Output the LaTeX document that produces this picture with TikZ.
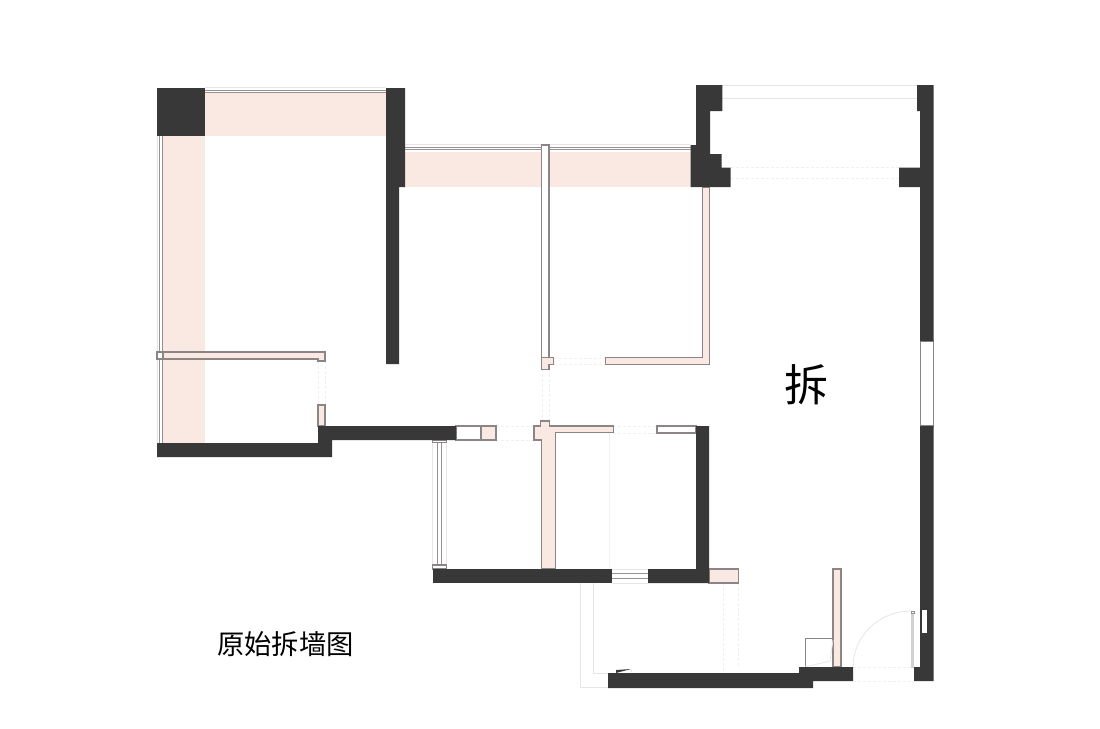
\documentclass[tikz,border=0pt]{standalone}
\usepackage{fontspec}
\usepackage{xcolor}
\newfontfamily\cjk{Noto Sans CJK SC}
\definecolor{walldark}{HTML}{383838}
\definecolor{wallpink}{HTML}{FAE9E3}
\definecolor{edgegray}{HTML}{8C8585}
\definecolor{palegray}{HTML}{E6E6E6}
\begin{document}
\begin{tikzpicture}[x=1pt, y=-1pt]
    \tikzstyle{wall}=[fill=walldark, draw=none]
    \tikzstyle{zone}=[fill=wallpink, draw=none]
    \tikzstyle{demo}=[fill=wallpink, draw=edgegray, line width=1.1pt]
    \tikzstyle{keep}=[fill=white, draw=edgegray, line width=1.1pt]
    \tikzstyle{glass}=[draw=edgegray!90, line width=0.8pt]
    \tikzstyle{pale}=[draw=palegray, line width=0.8pt]
    \tikzstyle{paledash}=[draw=palegray!60, line width=0.5pt, dash pattern=on 3pt off 2pt]
    \useasboundingbox (0,0) rectangle (1100,728);
    % areas to remove
    \fill[zone] (205,93) rectangle (386,136);
    \fill[zone] (163,136) rectangle (205,443);
    \fill[zone] (405,152) rectangle (691,187);
    % window lines
    \draw[pale] (205,87.5) -- (386,87.5);
    \draw[glass] (205,90) -- (386,90) (205,92.3) -- (386,92.3);
    \draw[pale] (157.5,136) -- (157.5,443);
    \draw[glass] (159.6,136) -- (159.6,443) (162,136) -- (162,443);
    \draw[pale] (405,144.5) -- (691,144.5);
    \draw[glass] (405,147.5) -- (691,147.5) (405,149.7) -- (691,149.7);
    \draw[pale] (722,85) -- (917,85) (722,98.5) -- (917,98.5);
    \draw[paledash] (731,167.7) -- (899,167.7) (731,178) -- (899,178);
    \draw[pale] (432.3,442) -- (432.3,565) (446.7,442) -- (446.7,565);
    \draw[glass] (437.3,442) -- (437.3,565) (441.7,442) -- (441.7,565);
    \draw[keep] (432.5,440) rectangle (446.5,442.3);
    \draw[keep] (432.5,565) rectangle (446.5,569);
    \draw[pale] (612,569.5) -- (648,569.5) (612,583) -- (648,583);
    \draw[glass] (612,573.5) -- (648,573.5) (612,578) -- (648,578);
    % openings
    \draw[paledash] (318,361) -- (318,405) (325,361) -- (325,405);
    \draw[paledash] (554,358) -- (605,358) (554,364) -- (605,364);
    \draw[paledash] (542,369) -- (542,421) (549,369) -- (549,421);
    \draw[paledash] (496,426) -- (534,426) (496,440) -- (534,440);
    \draw[paledash] (613,426) -- (657,426) (613,433) -- (657,433);
    \draw[palegray!60, line width=0.6pt] (609,433) -- (609,569);
    \draw[paledash] (723,583) -- (723,673) (738,583) -- (738,667);
    \draw[pale] (608,687.5) -- (580,687.5) -- (580,583);
    \draw[pale] (608,673) -- (593,673) -- (593,583);
    % entrance door
    \draw[paledash] (853,667) -- (914,667) (853,681) -- (914,681);
    \draw[pale] (853,667) arc (180:270:58 and 56);
    \fill[palegray!80!gray] (911,613) rectangle (914,668);
    \draw[glass] (911,611) rectangle (914,613.5);
    % thin partitions
    \draw[demo] (157,352) -- (325,352) -- (325,361) -- (318,361) -- (318,359) -- (157,359) -- cycle;
    \draw[keep] (157.5,352) rectangle (163,359);
    \draw[demo] (318,405) rectangle (325,426);
    \draw[keep] (541.7,145) rectangle (549,358);
    \draw[demo] (541.7,357.7) -- (553.7,357.7) -- (553.7,364.3) -- (549,364.3) -- (549,369.3) -- (541.7,369.3) -- cycle;
    \draw[demo] (702.3,187) -- (709.3,187) -- (709.3,364.3) -- (605.3,364.3) -- (605.3,357.7) -- (702.3,357.7) -- cycle;
    \draw[keep] (456,426) rectangle (481,440);
    \draw[demo] (481,426) rectangle (496,440);
    \draw[demo] (534,426) -- (540.7,426) -- (540.7,421) -- (549.3,421) -- (549.3,426) -- (613.3,426) -- (613.3,432.7) -- (555.7,432.7) -- (555.7,569) -- (541.7,569) -- (541.7,440) -- (534,440) -- cycle;
    \draw[keep] (657,426) rectangle (696,433);
    \draw[demo] (709,569) rectangle (738.5,583);
    \draw[demo] (833,569) rectangle (841,667);
    \draw[draw=edgegray, line width=0.8pt, fill=white] (805,667) -- (805,638) -- (833,638);
    \draw[pale] (805,667) -- (830,661) -- (833,640);
    \draw[keep] (920.5,341) rectangle (933.5,426);
    % bearing walls
    \draw[wall] (157,88) rectangle (205,136);
    \draw[wall] (386,88) -- (405,88) -- (405,187) -- (399,187) -- (399,364) -- (386,364) -- cycle;
    \draw[wall] (157,443) -- (318,443) -- (318,426) -- (456,426) -- (456,440) -- (332,440) -- (332,457) -- (157,457) -- cycle;
    \draw[wall] (696,85) -- (722.3,85) -- (722.3,111) -- (710,111) -- (710,154) -- (721.7,154) -- (721.7,167.7) -- (730.7,167.7) -- (730.7,187) -- (690.7,187) -- (690.7,145) -- (696,145) -- cycle;
    \draw[wall] (917,85) -- (933.7,85) -- (933.7,341) -- (920,341) -- (920,187) -- (899,187) -- (899,167.7) -- (920,167.7) -- (920,111) -- (917,111) -- cycle;
    \draw[wall] (920,426) -- (933.7,426) -- (933.7,681) -- (914,681) -- (914,667) -- (920,667) -- cycle;
    \draw[wall] (696,426) -- (709,426) -- (709,583) -- (648,583) -- (648,569) -- (696,569) -- cycle;
    \draw[wall] (432.5,569) rectangle (612,583);
    \draw[wall] (608,673) -- (799,673) -- (799,667) -- (853,667) -- (853,681) -- (813,681) -- (813,688) -- (608,688) -- cycle;
    \fill[walldark] (616,673) -- (616,670) -- (631,669) -- cycle;
    \draw[pale] (631,669) -- (632,673);
    \draw[fill=white, draw=walldark, line width=0.9pt] (921.5,609) rectangle (927,633);
    % labels
    \node[font=\cjk] (chai) at (806,385) {\fontsize{44}{44}\selectfont 拆};
    \node (title) at (285.5,644) {\cjk\fontsize{27.3}{27.3}\selectfont 原始拆墙图};
\end{tikzpicture}
\end{document}
